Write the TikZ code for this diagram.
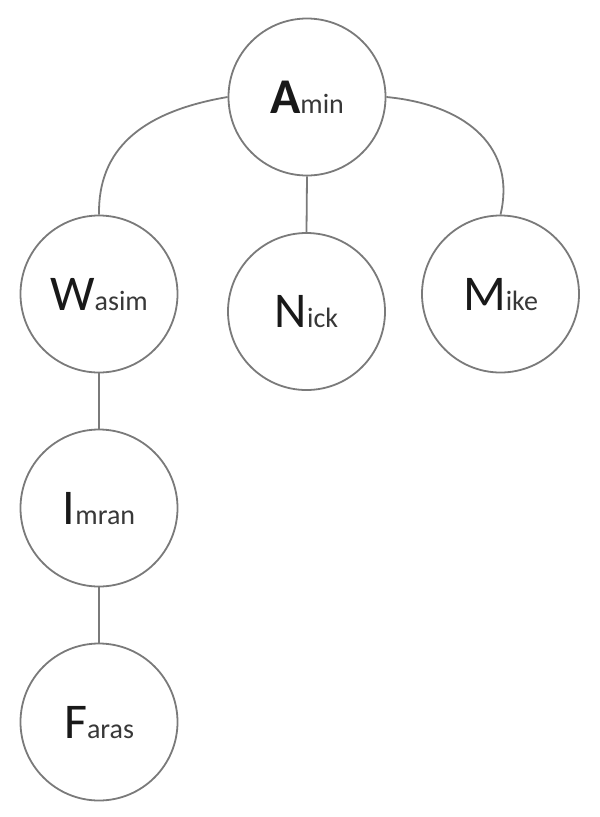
\documentclass[tikz,border=0pt]{standalone}
\usepackage{fontspec}
\setmainfont{Carlito}
\newcommand\bigsmall[2]{{\fontsize{50}{50}\selectfont\color{black!90}#1}{\fontsize{28}{28}\selectfont\color{black!78}#2}}
\begin{document}
\begin{tikzpicture}[x=1pt,y=-1pt,
  person/.style={circle,draw=black!52,line width=1.8pt,minimum size=157pt,inner sep=0pt,text height=32pt,text depth=0pt},
  link/.style={draw=black!52,line width=1.8pt}]
\useasboundingbox (0,0) rectangle (600,817);
\node[person] (A) at (307,97) {\bigsmall{\bfseries A}{min}};
\node[person] (W) at (99,294) {\bigsmall{W}{asim}};
\node[person] (N) at (306.5,311.5) {\bigsmall{N}{ick}};
\node[person] (M) at (500.5,294) {\bigsmall{M}{ike}};
\node[person] (I) at (99,508) {\bigsmall{I}{mran}};
\node[person] (F) at (99,722) {\bigsmall{F}{aras}};
\draw[link] (A.west) .. controls (140,112) and (98,150) .. (W.north);
\draw[link] (A.east) .. controls (470,105) and (516,150) .. (M.north);
\draw[link] (A.south) -- (N.north);
\draw[link] (W.south) -- (I.north);
\draw[link] (I.south) -- (F.north);
\end{tikzpicture}
\end{document}
